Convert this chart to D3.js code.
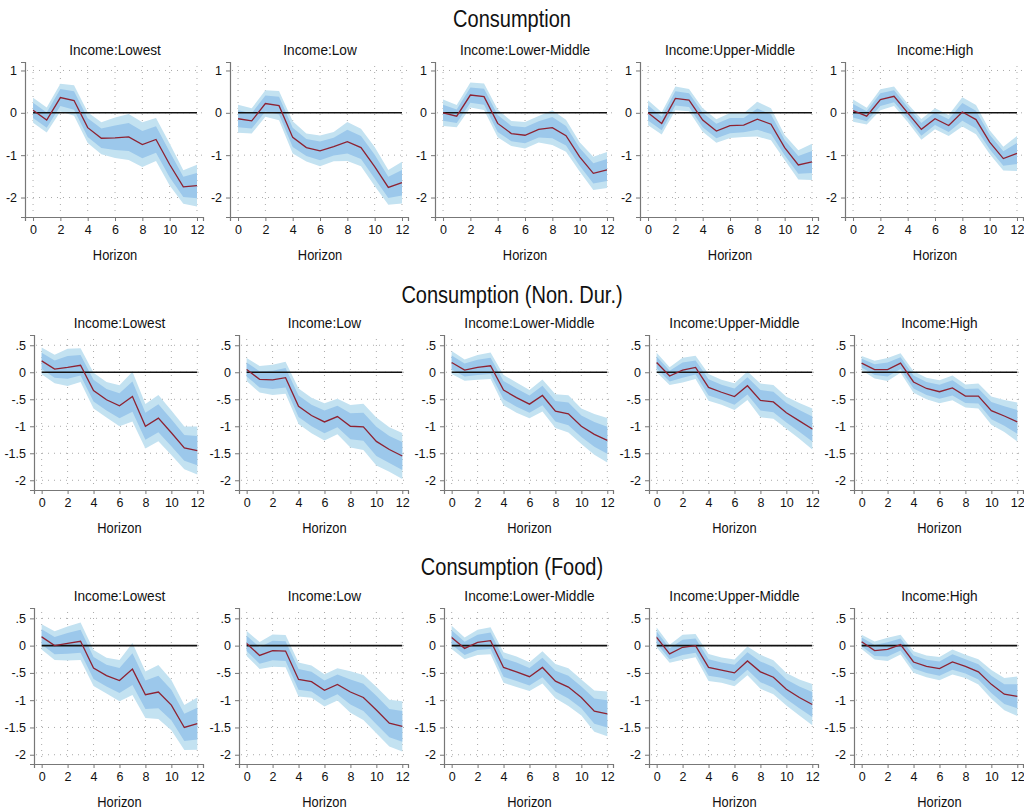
<!DOCTYPE html>
<html>
<head>
<meta charset="utf-8">
<script src="https://cdn.jsdelivr.net/npm/d3@7"></script>
<style>
  html, body { margin: 0; padding: 0; background: #fff; }
  svg { display: block; }
  text { font-family: "Liberation Sans", Arial, sans-serif; fill: #111; }
</style>
</head>
<body>
<div id="chart"></div>
<script>
// ---------------- DATA ----------------
const horizons = [0, 1, 2, 3, 4, 5, 6, 7, 8, 9, 10, 11, 12];
const incomeGroups = ["Income:Lowest", "Income:Low", "Income:Lower-Middle", "Income:Upper-Middle", "Income:High"];
const measures = ["Consumption", "Consumption (Non. Dur.)", "Consumption (Food)"];
const xAxisLabel = "Horizon";

// Consumption: point estimates (rows = income groups)
const consEst = [
  [0.06, -0.17, 0.36, 0.29, -0.35, -0.60, -0.59, -0.57, -0.75, -0.63, -1.22, -1.75, -1.72],
  [-0.14, -0.19, 0.22, 0.17, -0.58, -0.82, -0.90, -0.80, -0.68, -0.82, -1.27, -1.76, -1.65],
  [0.00, -0.08, 0.42, 0.38, -0.25, -0.49, -0.53, -0.39, -0.35, -0.54, -1.04, -1.43, -1.35],
  [0.00, -0.25, 0.34, 0.30, -0.17, -0.43, -0.30, -0.29, -0.15, -0.27, -0.82, -1.23, -1.16],
  [0.05, -0.08, 0.31, 0.39, 0.00, -0.39, -0.14, -0.30, 0.02, -0.16, -0.69, -1.08, -0.96]
];
// Consumption: standard errors
const consSE = [
  [0.18, 0.18, 0.20, 0.22, 0.22, 0.23, 0.29, 0.33, 0.32, 0.31, 0.30, 0.24, 0.30],
  [0.20, 0.18, 0.19, 0.21, 0.23, 0.20, 0.22, 0.21, 0.28, 0.27, 0.28, 0.25, 0.30],
  [0.19, 0.16, 0.18, 0.19, 0.20, 0.18, 0.19, 0.19, 0.25, 0.23, 0.21, 0.24, 0.26],
  [0.18, 0.16, 0.17, 0.16, 0.17, 0.17, 0.18, 0.17, 0.25, 0.23, 0.18, 0.21, 0.26],
  [0.16, 0.12, 0.15, 0.14, 0.13, 0.15, 0.15, 0.15, 0.21, 0.21, 0.17, 0.17, 0.25]
];

// Consumption (Non. Dur.)
const nondurEst = [
  [0.21, 0.06, 0.09, 0.13, -0.34, -0.51, -0.62, -0.45, -1.00, -0.85, -1.12, -1.40, -1.45],
  [0.05, -0.13, -0.14, -0.10, -0.63, -0.80, -0.92, -0.82, -1.00, -1.01, -1.28, -1.43, -1.55],
  [0.18, 0.04, 0.09, 0.12, -0.33, -0.47, -0.59, -0.43, -0.72, -0.77, -1.00, -1.15, -1.26],
  [0.18, -0.07, 0.04, 0.09, -0.28, -0.37, -0.45, -0.25, -0.52, -0.55, -0.75, -0.90, -1.05],
  [0.17, 0.05, 0.05, 0.17, -0.18, -0.30, -0.36, -0.29, -0.44, -0.44, -0.71, -0.81, -0.92]
];
const nondurSE = [
  [0.15, 0.16, 0.21, 0.19, 0.20, 0.20, 0.23, 0.28, 0.25, 0.26, 0.25, 0.24, 0.27],
  [0.13, 0.15, 0.17, 0.18, 0.20, 0.20, 0.21, 0.20, 0.24, 0.26, 0.27, 0.25, 0.26],
  [0.13, 0.12, 0.14, 0.15, 0.17, 0.17, 0.16, 0.18, 0.19, 0.21, 0.20, 0.23, 0.25],
  [0.11, 0.10, 0.14, 0.13, 0.15, 0.14, 0.15, 0.16, 0.19, 0.19, 0.18, 0.20, 0.23],
  [0.08, 0.10, 0.13, 0.11, 0.12, 0.12, 0.13, 0.14, 0.13, 0.14, 0.16, 0.18, 0.22]
];

// Consumption (Food)
const foodEst = [
  [0.16, 0.00, 0.04, 0.08, -0.41, -0.55, -0.64, -0.43, -0.90, -0.85, -1.09, -1.50, -1.43],
  [0.04, -0.18, -0.09, -0.10, -0.62, -0.66, -0.82, -0.71, -0.85, -0.95, -1.18, -1.42, -1.48],
  [0.15, -0.05, 0.06, 0.09, -0.40, -0.48, -0.57, -0.40, -0.65, -0.76, -0.95, -1.20, -1.25],
  [0.15, -0.15, -0.03, 0.00, -0.40, -0.45, -0.50, -0.28, -0.48, -0.58, -0.80, -0.95, -1.08],
  [0.07, -0.09, -0.07, 0.02, -0.30, -0.38, -0.42, -0.30, -0.38, -0.48, -0.71, -0.89, -0.93]
];
const foodSE = [
  [0.14, 0.16, 0.19, 0.21, 0.20, 0.20, 0.23, 0.29, 0.26, 0.30, 0.28, 0.25, 0.29],
  [0.14, 0.15, 0.18, 0.18, 0.19, 0.18, 0.18, 0.18, 0.23, 0.25, 0.26, 0.26, 0.28],
  [0.13, 0.12, 0.14, 0.15, 0.17, 0.17, 0.16, 0.18, 0.19, 0.21, 0.20, 0.23, 0.25],
  [0.11, 0.10, 0.14, 0.13, 0.15, 0.14, 0.15, 0.16, 0.19, 0.19, 0.18, 0.20, 0.23],
  [0.08, 0.10, 0.13, 0.11, 0.12, 0.12, 0.13, 0.14, 0.13, 0.14, 0.16, 0.18, 0.22]
];

// Band multipliers (outer / inner confidence bands)
const bandZ = [1.645, 1.0];

// Tick values / labels
const xTicks = [0, 2, 4, 6, 8, 10, 12];
const yTicksCons = [1, 0, -1, -2];
const yTickLabelsCons = ["1", "0", "-1", "-2"];
const yTicksSub = [0.5, 0, -0.5, -1, -1.5, -2];
const yTickLabelsSub = [".5", "0", "-.5", "-1", "-1.5", "-2"];

// ---------------- LAYOUT ----------------
const W = 1024, H = 811;
const colors = { outer: "#c3e2f1", inner: "#9cc8eb", line: "#8e2232", zero: "#111", axis: "#777", grid: "#aaa" };
const panelOffsets = [0, 205, 410, 615, 820];
const rows = [
  { title: measures[0], est: consEst, se: consSE, titleY: 27, top: 62, bottom: 217, left: 25,
    yDomain: [-2.46, 1.2], yTicks: yTicksCons, yLabels: yTickLabelsCons },
  { title: measures[1], est: nondurEst, se: nondurSE, titleY: 303, top: 335, bottom: 490, left: 34,
    yDomain: [-2.18, 0.69], yTicks: yTicksSub, yLabels: yTickLabelsSub },
  { title: measures[2], est: foodEst, se: foodSE, titleY: 575, top: 608, bottom: 764, left: 34,
    yDomain: [-2.17, 0.69], yTicks: yTicksSub, yLabels: yTickLabelsSub }
];
const plotRight = 203;
const xDomain = [-0.59, 12.44];

const svg = d3.select("#chart").append("svg").attr("width", W).attr("height", H);

// condensed text helper (reference uses a narrow Helvetica-like face)
function condensedText(parent, cx, cy, str, size, sx) {
  parent.append("g").attr("transform", `translate(${cx},${cy}) scale(${sx},1)`)
    .append("text").attr("text-anchor", "middle").style("font-size", size + "px").text(str);
}

rows.forEach((row) => {
  condensedText(svg, 512, row.titleY, row.title, 23, 0.87);

  incomeGroups.forEach((grp, gi) => {
    const off = panelOffsets[gi];
    const g = svg.append("g").attr("transform", `translate(${off},0)`);
    const x = d3.scaleLinear().domain(xDomain).range([row.left, plotRight]);
    const y = d3.scaleLinear().domain(row.yDomain).range([row.bottom, row.top]);

    const est = row.est[gi], se = row.se[gi];
    const pts = horizons.map((h, i) => ({ h, v: est[i], s: se[i] }));

    // dotted grid
    g.append("g").selectAll("line").data(row.yTicks).join("line")
      .attr("x1", row.left + 2).attr("x2", plotRight)
      .attr("y1", d => y(d)).attr("y2", d => y(d))
      .attr("stroke", colors.grid).attr("stroke-width", 1).attr("stroke-dasharray", "1,5");
    g.append("g").selectAll("line").data(xTicks).join("line")
      .attr("x1", d => x(d)).attr("x2", d => x(d))
      .attr("y1", row.top + 4).attr("y2", row.bottom - 2)
      .attr("stroke", colors.grid).attr("stroke-width", 1).attr("stroke-dasharray", "1,5");

    // bands
    const bandCols = [colors.outer, colors.inner];
    bandZ.forEach((z, bi) => {
      const area = d3.area()
        .x(d => x(d.h))
        .y0(d => y(d.v - z * d.s))
        .y1(d => y(d.v + z * d.s));
      g.append("path").datum(pts).attr("d", area).attr("fill", bandCols[bi]);
    });

    // zero line
    g.append("line")
      .attr("x1", x(horizons[0])).attr("x2", x(horizons[horizons.length - 1]))
      .attr("y1", y(0)).attr("y2", y(0))
      .attr("stroke", colors.zero).attr("stroke-width", 1.6);

    // estimate line
    const line = d3.line().x(d => x(d.h)).y(d => y(d.v));
    g.append("path").datum(pts).attr("d", line)
      .attr("fill", "none").attr("stroke", colors.line).attr("stroke-width", 1.3);

    // axes
    const yAxis = d3.axisLeft(y).tickValues(row.yTicks)
      .tickFormat((d, i) => row.yLabels[i]).tickSize(4).tickPadding(4);
    const ya = g.append("g").attr("transform", `translate(${row.left},0)`).call(yAxis);
    const xAxis = d3.axisBottom(x).tickValues(xTicks).tickFormat(d3.format("d")).tickSize(4).tickPadding(4);
    const xa = g.append("g").attr("transform", `translate(0,${row.bottom})`).call(xAxis);
    [ya, xa].forEach(a => {
      a.select(".domain").attr("stroke", colors.axis).attr("stroke-width", 1.2);
      a.selectAll(".tick line").attr("stroke", colors.axis);
      a.selectAll(".tick text").style("font-size", "12.5px").attr("fill", "#111")
        .style("font-family", '"Liberation Sans", Arial, sans-serif');
    });

    const cx = (x(0) + x(12)) / 2;
    // panel title
    condensedText(g, cx, row.top - 7.5, grp, 15.5, 0.88);
    // x label
    condensedText(g, cx, row.bottom + 43, xAxisLabel, 15, 0.86);
  });
});
</script>
</body>
</html>
